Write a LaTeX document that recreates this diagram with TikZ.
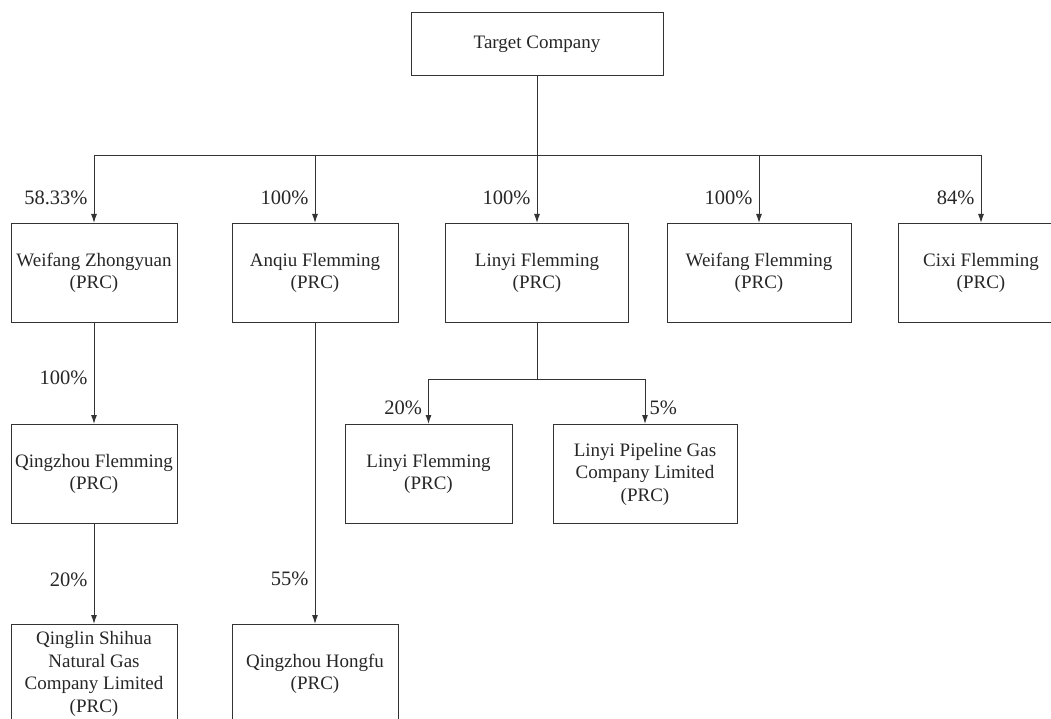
\documentclass[tikz,border=0pt]{standalone}
\usepackage{fontspec}
\setmainfont{Liberation Serif}
\usepackage{xcolor}
\usetikzlibrary{arrows.meta,positioning,calc}
\definecolor{ink}{HTML}{333333}
\tikzset{
  co/.style={draw=ink,line width=1pt,minimum width=#1,minimum height=99pt,inner sep=2pt,
             align=center,text=black!85,font=\fontsize{19}{22.5}\selectfont},
  co/.default=166pt,
  own/.style={-{Latex[length=9pt,width=6pt]},line width=1pt,draw=ink},
  bus/.style={line width=1pt,draw=ink},
  pct/.style={text=black!85,font=\fontsize{20.5}{24}\selectfont,inner sep=2pt},
  pctl/.style={pct,left,xshift=-4pt},
  pctr/.style={pct,right,xshift=4pt},
}

\begin{document}
\begin{tikzpicture}[x=1pt,y=-1pt]
  \clip (0,0) rectangle (1051,719);
  % top
  \node[co=252pt,minimum height=63pt] (tc) at (537,44.5) {Target Company};
  \coordinate (hub) at (537,156);
  % first tier
  \node[co] (wz) at (94,273) {Weifang Zhongyuan\\(PRC)};
  \node[co] (aq) at (315,273) {Anqiu Flemming\\(PRC)};
  \node[co=183pt] (ly) at (537,273) {Linyi Flemming\\(PRC)};
  \node[co=184pt] (wf) at (759,273) {Weifang Flemming\\(PRC)};
  \node[co] (cx) at (981,273) {Cixi Flemming\\(PRC)};
  \draw[bus] (tc) -- (hub);
  \draw[own] (hub) -| node[pctl,pos=0.81]{58.33\%} (wz);
  \draw[own] (hub) -| node[pctl,pos=0.81]{100\%} (aq);
  \draw[own] (hub) -| node[pctl,pos=0.81]{100\%} (ly);
  \draw[own] (hub) -| node[pctl,pos=0.81]{100\%} (wf);
  \draw[own] (hub) -| node[pctl,pos=0.81]{84\%} (cx);
  % second tier
  \node[co] (qz) at (94,474) {Qingzhou Flemming\\(PRC)};
  \node[co=167pt] (ly2) at (428.5,474) {Linyi Flemming\\(PRC)};
  \node[co=184pt] (lp) at (645,474) {Linyi Pipeline Gas\\Company Limited\\(PRC)};
  \coordinate (lyhub) at (537,379);
  \draw[own] (wz) -- node[pctl,pos=0.54]{100\%} (qz);
  \draw[bus] (ly) -- (lyhub);
  \draw[own] (lyhub) -| node[pctl,pos=0.82]{20\%} (ly2);
  \draw[own] (lyhub) -| node[pctr,xshift=-2pt,pos=0.82]{5\%} (lp);
  % third tier
  \node[co] (qs) at (94,674) {Qinglin Shihua\\Natural Gas\\Company Limited\\(PRC)};
  \node[co] (hf) at (315,674) {Qingzhou Hongfu\\(PRC)};
  \draw[own] (qz) -- node[pctl,pos=0.56]{20\%} (qs);
  \draw[own] (aq) -- node[pctl,pos=0.85]{55\%} (hf);
\end{tikzpicture}
\end{document}
